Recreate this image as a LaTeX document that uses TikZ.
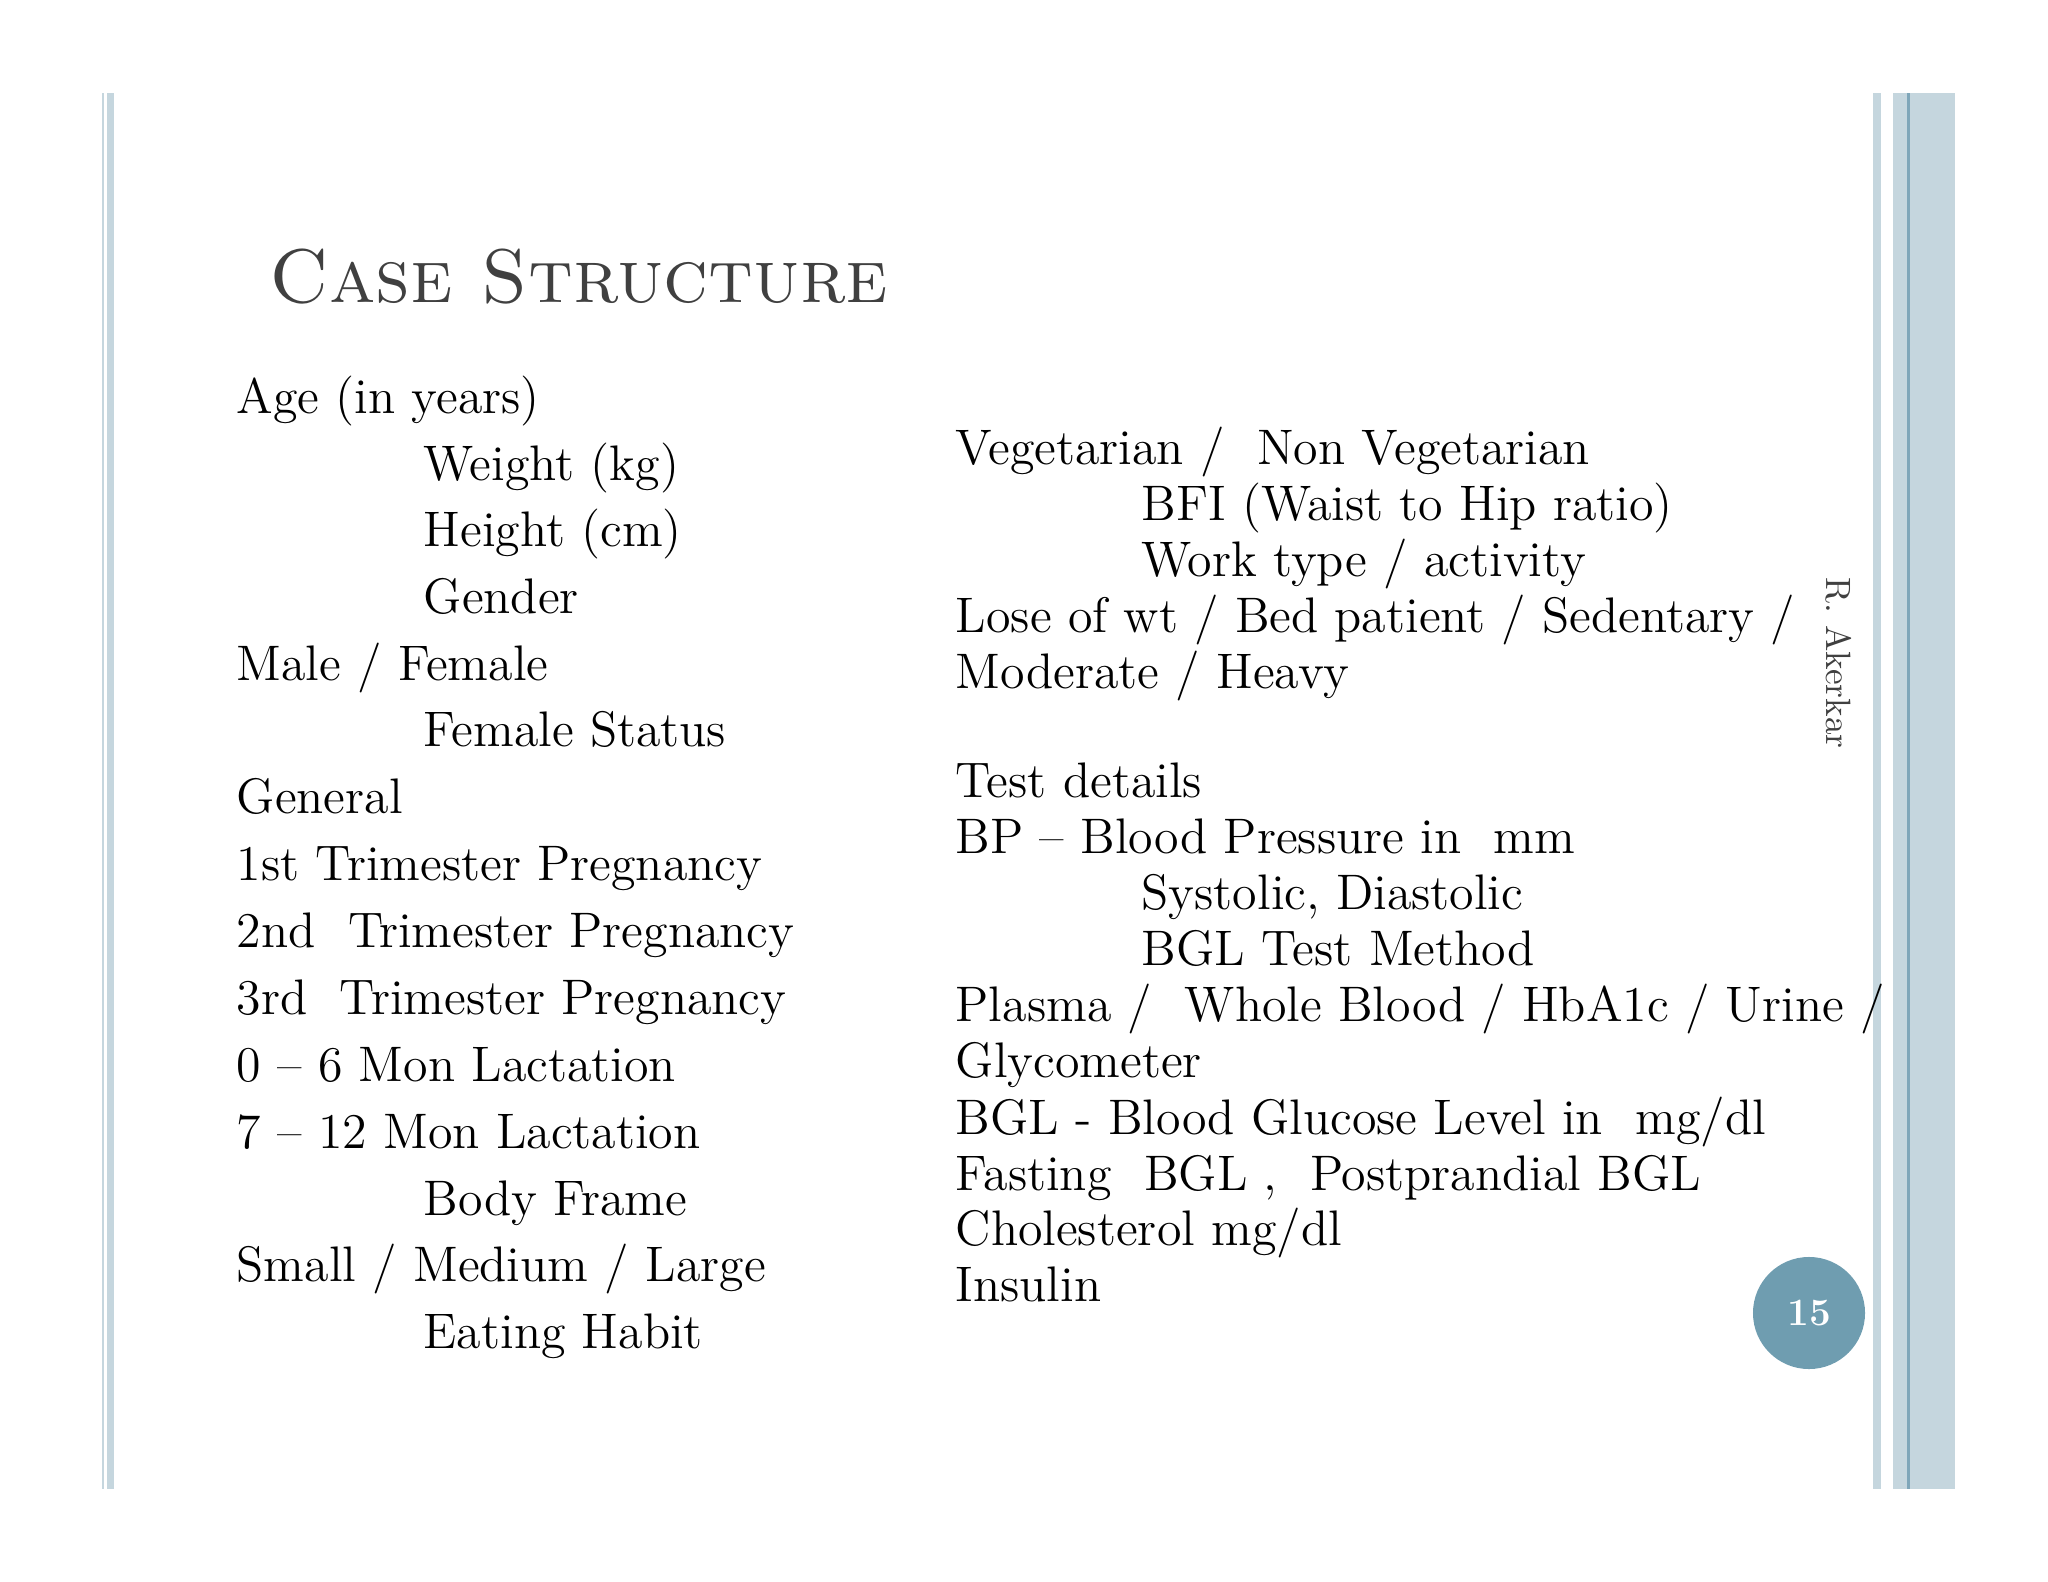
\documentclass[tikz,border=0pt]{standalone}
\begin{document}
\begin{tikzpicture}[x=0.01cm,y=-0.01cm,
  txt/.style={anchor=base west,inner sep=0pt,font=\fontsize{14.2}{16}\selectfont},
  bar/.style={fill=barblue,draw=none}]
\definecolor{barblue}{HTML}{C5D6DE}
\definecolor{darkline}{HTML}{7FA6B9}
\definecolor{circ}{HTML}{6F9DB0}
\definecolor{titlec}{HTML}{404040}
\useasboundingbox (0,0) rectangle (2048,1582);
\fill[white] (0,0) rectangle (2048,1582);
% left border
\fill[bar] (102,93) rectangle (104,1489);
\fill[bar] (107,93) rectangle (114,1489);
% right border
\fill[bar] (1873,93) rectangle (1881,1489);
\fill[bar] (1893,93) rectangle (1955,1489);
\fill[darkline] (1907,93) rectangle (1910,1489);
% title
\node[anchor=base west,inner sep=0pt,text=titlec,font=\fontsize{21.6}{24}\selectfont] (title) at (269,303) {\textsc{Case Structure}};
% left column
\node[txt] (l1) at (236,413) {Age (in years)};
\node[txt] (l2) at (423,480) {Weight (kg)};
\node[txt] (l3) at (423,546) {Height (cm)};
\node[txt] (l4) at (423,613) {Gender};
\node[txt] (l5) at (236,680) {Male / Female};
\node[txt] (l6) at (423,746) {Female Status};
\node[txt] (l7) at (236,813) {General};
\node[txt] (l8) at (236,880) {1st Trimester Pregnancy};
\node[txt] (l9) at (236,947) {2nd\ \ Trimester Pregnancy};
\node[txt] (l10) at (236,1014) {3rd\ \ Trimester Pregnancy};
\node[txt] (l11) at (236,1081) {0 -- 6 Mon Lactation};
\node[txt] (l12) at (236,1148) {7 -- 12 Mon Lactation};
\node[txt] (l13) at (423,1215) {Body Frame};
\node[txt] (l14) at (236,1281) {Small / Medium / Large};
\node[txt] (l15) at (423,1348) {Eating Habit};
% right column
\node[txt] (r1) at (955,464) {Vegetarian /\ \ Non Vegetarian};
\node[txt] (r2) at (1141,520) {BFI (Waist to Hip ratio)};
\node[txt] (r3) at (1141,576) {Work type / activity};
\node[txt] (r4) at (955,632) {Lose of wt / Bed patient / Sedentary /};
\node[txt] (r5) at (955,688) {Moderate / Heavy};
\node[txt] (r6) at (955,797) {Test details};
\node[txt] (r7) at (955,853) {BP -- Blood Pressure in\ \ mm};
\node[txt] (r8) at (1141,909) {Systolic, Diastolic};
\node[txt] (r9) at (1141,965) {BGL Test Method};
\node[txt] (r10) at (955,1021) {Plasma /\ \ Whole Blood / HbA1c / Urine /};
\node[txt] (r11) at (955,1077) {Glycometer};
\node[txt] (r12) at (955,1134) {BGL - Blood Glucose Level in\ \ mg/dl};
\node[txt] (r13) at (955,1190) {Fasting\ \ BGL ,\ \ Postprandial BGL};
\node[txt] (r14) at (955,1245) {Cholesterol mg/dl};
\node[txt] (r15) at (955,1301) {Insulin};
% author and page number
\node[rotate=-90,text=titlec,font=\fontsize{10}{12}\selectfont,inner sep=0pt] (auth) at (1839,663) {R. Akerkar};
\node[circle,fill=circ,minimum size=1.12cm,inner sep=0pt,text=white,font=\bfseries\fontsize{11}{12}\selectfont] (pg) at (1809,1313) {15};
\end{tikzpicture}
\end{document}
